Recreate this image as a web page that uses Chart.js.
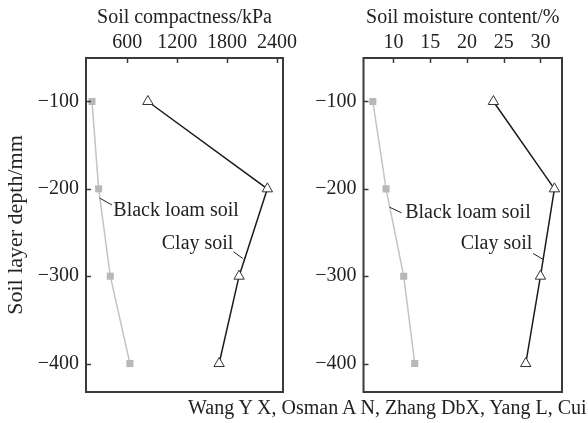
<!DOCTYPE html>
<html>
<head>
<meta charset="utf-8">
<script src="https://cdn.jsdelivr.net/npm/chart.js@4.4.0/dist/chart.umd.min.js"></script>
<style>
  html, body { margin: 0; padding: 0; background: #fff; }
  #wrap { position: relative; width: 588px; height: 423px; overflow: hidden; }
  .panel { position: absolute; top: 0; height: 423px; }
  #caption {
    position: absolute; left: 188px; top: 396px; white-space: nowrap;
    font-family: "Liberation Serif", serif; font-size: 20px; color: #222;
  }
</style>
</head>
<body>
<div id="wrap">
  <div class="panel" style="left:0;width:305px"><canvas id="compChart"></canvas></div>
  <div class="panel" style="left:290px;width:298px"><canvas id="moistChart"></canvas></div>
  <div id="caption">Wang Y X, Osman A N, Zhang DbX, Yang L, Cui</div>
</div>
<script>
// depth of each sampling layer (mm)
const depths = [-100, -200, -300, -400];
const depthTicks = [-100, -200, -300, -400];

// soil compactness, kPa
const loamCompaction = [176, 256, 396, 632];
const clayCompaction = [848, 2284, 1944, 1704];
const compactionTicks = [600, 1200, 1800, 2400];

// soil moisture content, %
const loamMoisture = [7.2, 9.0, 11.4, 12.9];
const clayMoisture = [23.6, 31.9, 30.0, 28.0];
const moistureTicks = [10, 15, 20, 25, 30];

const FONT = "Liberation Serif";
const AXIS = "#3a3a3a";
const TEXT = "#222";

const toPoints = (xs) => xs.map((v, i) => ({ x: v, y: depths[i] }));

// inward tick marks + closed frame
const framePlugin = {
  id: "frame",
  afterDatasetsDraw(chart) {
    const { ctx, chartArea: a, scales } = chart;
    ctx.save();
    ctx.strokeStyle = AXIS;
    ctx.lineWidth = 1.5;
    scales.x.ticks.forEach(t => {
      const px = Math.round(scales.x.getPixelForValue(t.value)) + 0.5;
      ctx.beginPath(); ctx.moveTo(px, a.top); ctx.lineTo(px, a.top + 5); ctx.stroke();
    });
    scales.y.ticks.forEach(t => {
      const py = Math.round(scales.y.getPixelForValue(t.value)) + 0.5;
      ctx.beginPath(); ctx.moveTo(a.left, py); ctx.lineTo(a.left + 5, py); ctx.stroke();
    });
    ctx.lineWidth = 2;
    ctx.strokeRect(a.left, a.top, a.right - a.left, a.bottom - a.top);
    ctx.restore();
  }
};

// text labels with short leader lines, placed in data coordinates
const notePlugin = {
  id: "notes",
  afterDatasetsDraw(chart, args, opts) {
    const { ctx, scales } = chart;
    ctx.save();
    ctx.font = "20px " + FONT;
    ctx.fillStyle = TEXT;
    ctx.strokeStyle = "#222";
    ctx.lineWidth = 1;
    ctx.textBaseline = "middle";
    (opts.items || []).forEach(n => {
      ctx.textAlign = n.align;
      ctx.fillText(n.text, scales.x.getPixelForValue(n.x), scales.y.getPixelForValue(n.y));
      ctx.beginPath();
      ctx.moveTo(scales.x.getPixelForValue(n.line[0]), scales.y.getPixelForValue(n.line[1]));
      ctx.lineTo(scales.x.getPixelForValue(n.line[2]), scales.y.getPixelForValue(n.line[3]));
      ctx.stroke();
    });
    ctx.restore();
  }
};

function makeChart(id, opts) {
  return new Chart(document.getElementById(id), {
    type: "scatter",
    data: {
      datasets: [
        {
          label: "Black loam soil",
          data: toPoints(opts.loam),
          showLine: true,
          borderColor: "#c4c4c4",
          borderWidth: 1.5,
          pointStyle: "rect",
          pointRadius: 5,
          pointBackgroundColor: "#b8b8b8",
          pointBorderColor: "#b8b8b8",
          pointBorderWidth: 0,
        },
        {
          label: "Clay soil",
          data: toPoints(opts.clay),
          showLine: true,
          borderColor: "#1c1c1c",
          borderWidth: 1.5,
          pointStyle: "triangle",
          pointRadius: 6,
          pointBackgroundColor: "#fff",
          pointBorderColor: "#333",
          pointBorderWidth: 1,
        },
      ],
    },
    options: {
      responsive: true,
      maintainAspectRatio: false,
      animation: false,
      layout: { padding: { left: 0, right: opts.padRight, top: 0, bottom: 31 } },
      scales: {
        x: {
          type: "linear",
          position: "top",
          min: opts.xMin,
          max: opts.xMax,
          afterBuildTicks: (s) => { s.ticks = opts.xTicks.map(v => ({ value: v })); },
          afterFit: (s) => { s.height = 58; s.paddingLeft = 0; s.paddingRight = 0; },
          grid: { drawOnChartArea: false, drawTicks: false },
          border: { display: false },
          ticks: {
            color: TEXT, font: { family: FONT, size: 20 }, padding: 3, maxRotation: 0,
            callback: (v) => String(v),
          },
          title: { display: true, text: opts.xTitle, color: TEXT, font: { family: FONT, size: 20 }, padding: { top: 6, bottom: 0 } },
        },
        y: {
          type: "linear",
          min: -432.6,
          max: -50.2,
          afterBuildTicks: (s) => { s.ticks = depthTicks.map(v => ({ value: v })); },
          afterFit: (s) => { s.width = opts.yWidth; s.paddingTop = 0; s.paddingBottom = 0; },
          grid: { drawOnChartArea: false, drawTicks: false },
          border: { display: false },
          ticks: {
            color: TEXT, font: { family: FONT, size: 20 }, padding: 7,
            callback: (v) => String(v).replace("-", "\u2212"),
          },
          title: { display: opts.yTitle, text: "Soil layer depth/mm", color: TEXT, font: { family: FONT, size: 22 }, padding: { top: 3, bottom: 0 } },
        },
      },
      plugins: {
        legend: { display: false },
        tooltip: { enabled: false },
        notes: { items: opts.notes },
      },
    },
    plugins: [framePlugin, notePlugin],
  });
}

makeChart("compChart", {
  loam: loamCompaction,
  clay: clayCompaction,
  xMin: 104, xMax: 2472,
  xTicks: compactionTicks,
  xTitle: "Soil compactness/kPa",
  yTitle: true,
  yWidth: 86,
  padRight: 22,
  notes: [
    { text: "Black loam soil", x: 432, y: -225, align: "left", line: [267, -210.5, 416, -218.5] },
    { text: "Clay soil", x: 1876, y: -263, align: "right", line: [1876, -272, 1988, -279.7] },
  ],
});

makeChart("moistChart", {
  loam: loamMoisture,
  clay: clayMoisture,
  xMin: 5.93, xMax: 32.93,
  xTicks: moistureTicks,
  xTitle: "Soil moisture content/%",
  yTitle: false,
  yWidth: 73.5,
  padRight: 26,
  notes: [
    { text: "Black loam soil", x: 11.6, y: -227.7, align: "left", line: [9.46, -221, 11.1, -227.4] },
    { text: "Clay soil", x: 28.9, y: -263.3, align: "right", line: [29.0, -274, 30.35, -280.8] },
  ],
});
</script>
</body>
</html>
